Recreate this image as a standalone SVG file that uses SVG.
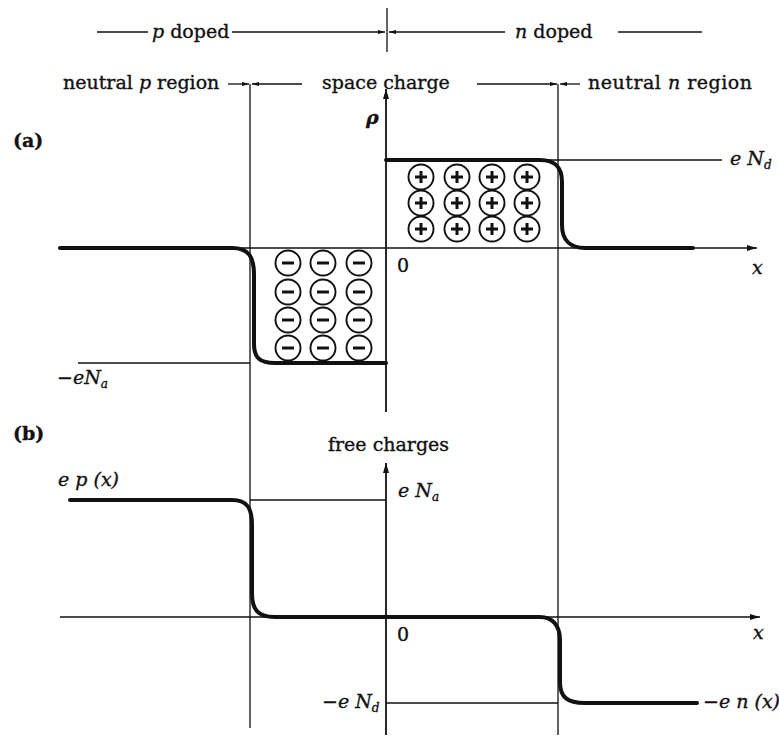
<svg xmlns="http://www.w3.org/2000/svg" width="779" height="739" viewBox="0 0 779 739">
<style>
text{font-family:"DejaVu Serif","Liberation Serif",serif;fill:#111;font-size:19px;stroke:#111;stroke-width:0.35}
.it{font-style:italic}
.b{font-weight:bold}
.sub{font-size:12px;font-style:italic}
.thin{stroke:#111;stroke-width:1.3;fill:none}
.axis{stroke:#111;stroke-width:1.8;fill:none}
.thick{stroke:#111;stroke-width:4;fill:none;stroke-linecap:round}
</style>
<defs>
<marker id="ah" viewBox="0 0 10 6" refX="10" refY="3" markerWidth="7" markerHeight="4.2" markerUnits="userSpaceOnUse" orient="auto"><path d="M0,0 L10,3 L0,6 z" fill="#111"/></marker>
<marker id="ax" viewBox="0 0 10 6" refX="10" refY="3" markerWidth="10" markerHeight="6" markerUnits="userSpaceOnUse" orient="auto"><path d="M0,0 L10,3 L0,6 z" fill="#111"/></marker>
<g id="minus"><circle r="12.5" fill="#fff" stroke="#111" stroke-width="1.9"/><path d="M-6,0 H6" stroke="#111" stroke-width="3" fill="none"/></g>
<g id="plus"><circle r="12.5" fill="#fff" stroke="#111" stroke-width="1.9"/><path d="M-6,0 H6 M0,-6 V6" stroke="#111" stroke-width="3" fill="none"/></g>
</defs>

<g id="connectors">
<line class="thin" x1="97" y1="32" x2="148" y2="32"/>
<line class="thin" x1="232" y1="32" x2="385" y2="32" marker-end="url(#ah)"/>
<line class="thin" x1="387" y1="8" x2="387" y2="52"/>
<line class="thin" x1="505" y1="32" x2="389" y2="32" marker-end="url(#ah)"/>
<line class="thin" x1="618" y1="32" x2="702" y2="32"/>
<line class="thin" x1="228" y1="84" x2="249" y2="84" marker-end="url(#ah)"/>
<line class="thin" x1="302" y1="84" x2="252" y2="84" marker-end="url(#ah)"/>
<line class="thin" x1="477" y1="84" x2="557" y2="84" marker-end="url(#ah)"/>
<line class="thin" x1="580" y1="84" x2="560" y2="84" marker-end="url(#ah)"/>
<line class="thin" x1="250" y1="84" x2="250" y2="728"/>
<line class="thin" x1="558" y1="84" x2="558" y2="735"/>
</g>

<g id="plot-a">
<line class="axis" x1="386" y1="412" x2="386" y2="89" marker-end="url(#ax)"/>
<line class="thin" x1="58" y1="248" x2="757" y2="248" marker-end="url(#ax)"/>
<line class="thin" x1="540" y1="160" x2="722" y2="160"/>
<line class="thin" x1="78" y1="363" x2="250" y2="363"/>
<path class="thick" d="M60,248 H232 C248,248 254,256 254,275 V344 C254,358 260,363 275,363 H386"/>
<path class="thick" d="M386,160 H540 C555,160 562,167 562,182 V225 C562,240 570,248 585,248 H693"/>
<g id="ions">
<use href="#minus" x="288" y="263"/><use href="#minus" x="323" y="263"/><use href="#minus" x="359" y="263"/>
<use href="#minus" x="288" y="292"/><use href="#minus" x="323" y="292"/><use href="#minus" x="359" y="292"/>
<use href="#minus" x="288" y="320"/><use href="#minus" x="323" y="320"/><use href="#minus" x="359" y="320"/>
<use href="#minus" x="288" y="348"/><use href="#minus" x="323" y="348"/><use href="#minus" x="359" y="348"/>
<use href="#plus" x="421" y="177"/><use href="#plus" x="457" y="177"/><use href="#plus" x="492" y="177"/><use href="#plus" x="527" y="177"/>
<use href="#plus" x="421" y="203"/><use href="#plus" x="457" y="203"/><use href="#plus" x="492" y="203"/><use href="#plus" x="527" y="203"/>
<use href="#plus" x="421" y="229"/><use href="#plus" x="457" y="229"/><use href="#plus" x="492" y="229"/><use href="#plus" x="527" y="229"/>
</g>
</g>

<g id="plot-b">
<line class="axis" x1="386" y1="735" x2="386" y2="463" marker-end="url(#ax)"/>
<line class="thin" x1="60" y1="617" x2="760" y2="617" marker-end="url(#ax)"/>
<line class="thin" x1="250" y1="500" x2="386" y2="500"/>
<line class="thin" x1="386" y1="703" x2="558" y2="703"/>
<path class="thick" d="M70,500 H232 C247,500 252,508 252,525 V593 C252,610 258,617 275,617 H540 C552,617 560,625 560,640 V682 C560,697 567,703 585,703 H697"/>
</g>

<g id="labels">
<text x="152" y="38"><tspan class="it">p</tspan> doped</text>
<text x="515" y="38"><tspan class="it">n</tspan> doped</text>
<text x="63" y="89">neutral <tspan class="it">p</tspan> region</text>
<text x="322" y="89">space charge</text>
<text x="588" y="89" textLength="164">neutral <tspan class="it">n</tspan> region</text>
<text x="13" y="147" class="b">(a)</text>
<text x="366" y="124" class="it b">ρ</text>
<text x="730" y="165" class="it">e N<tspan class="sub" dy="4">d</tspan></text>
<text x="397" y="272" font-size="16">0</text>
<text x="752" y="274" class="it">x</text>
<text x="57" y="384" class="it">−eN<tspan class="sub" dy="4">a</tspan></text>
<text x="13" y="440" class="b">(b)</text>
<text x="328" y="451">free charges</text>
<text x="398" y="497" class="it">e N<tspan class="sub" dy="4">a</tspan></text>
<text x="58" y="486" class="it">e p (x)</text>
<text x="397" y="641" font-size="16">0</text>
<text x="753" y="639" class="it">x</text>
<text x="322" y="708" class="it">−e N<tspan class="sub" dy="4">d</tspan></text>
<text x="703" y="708" class="it">−e n (x)</text>
</g>
</svg>
